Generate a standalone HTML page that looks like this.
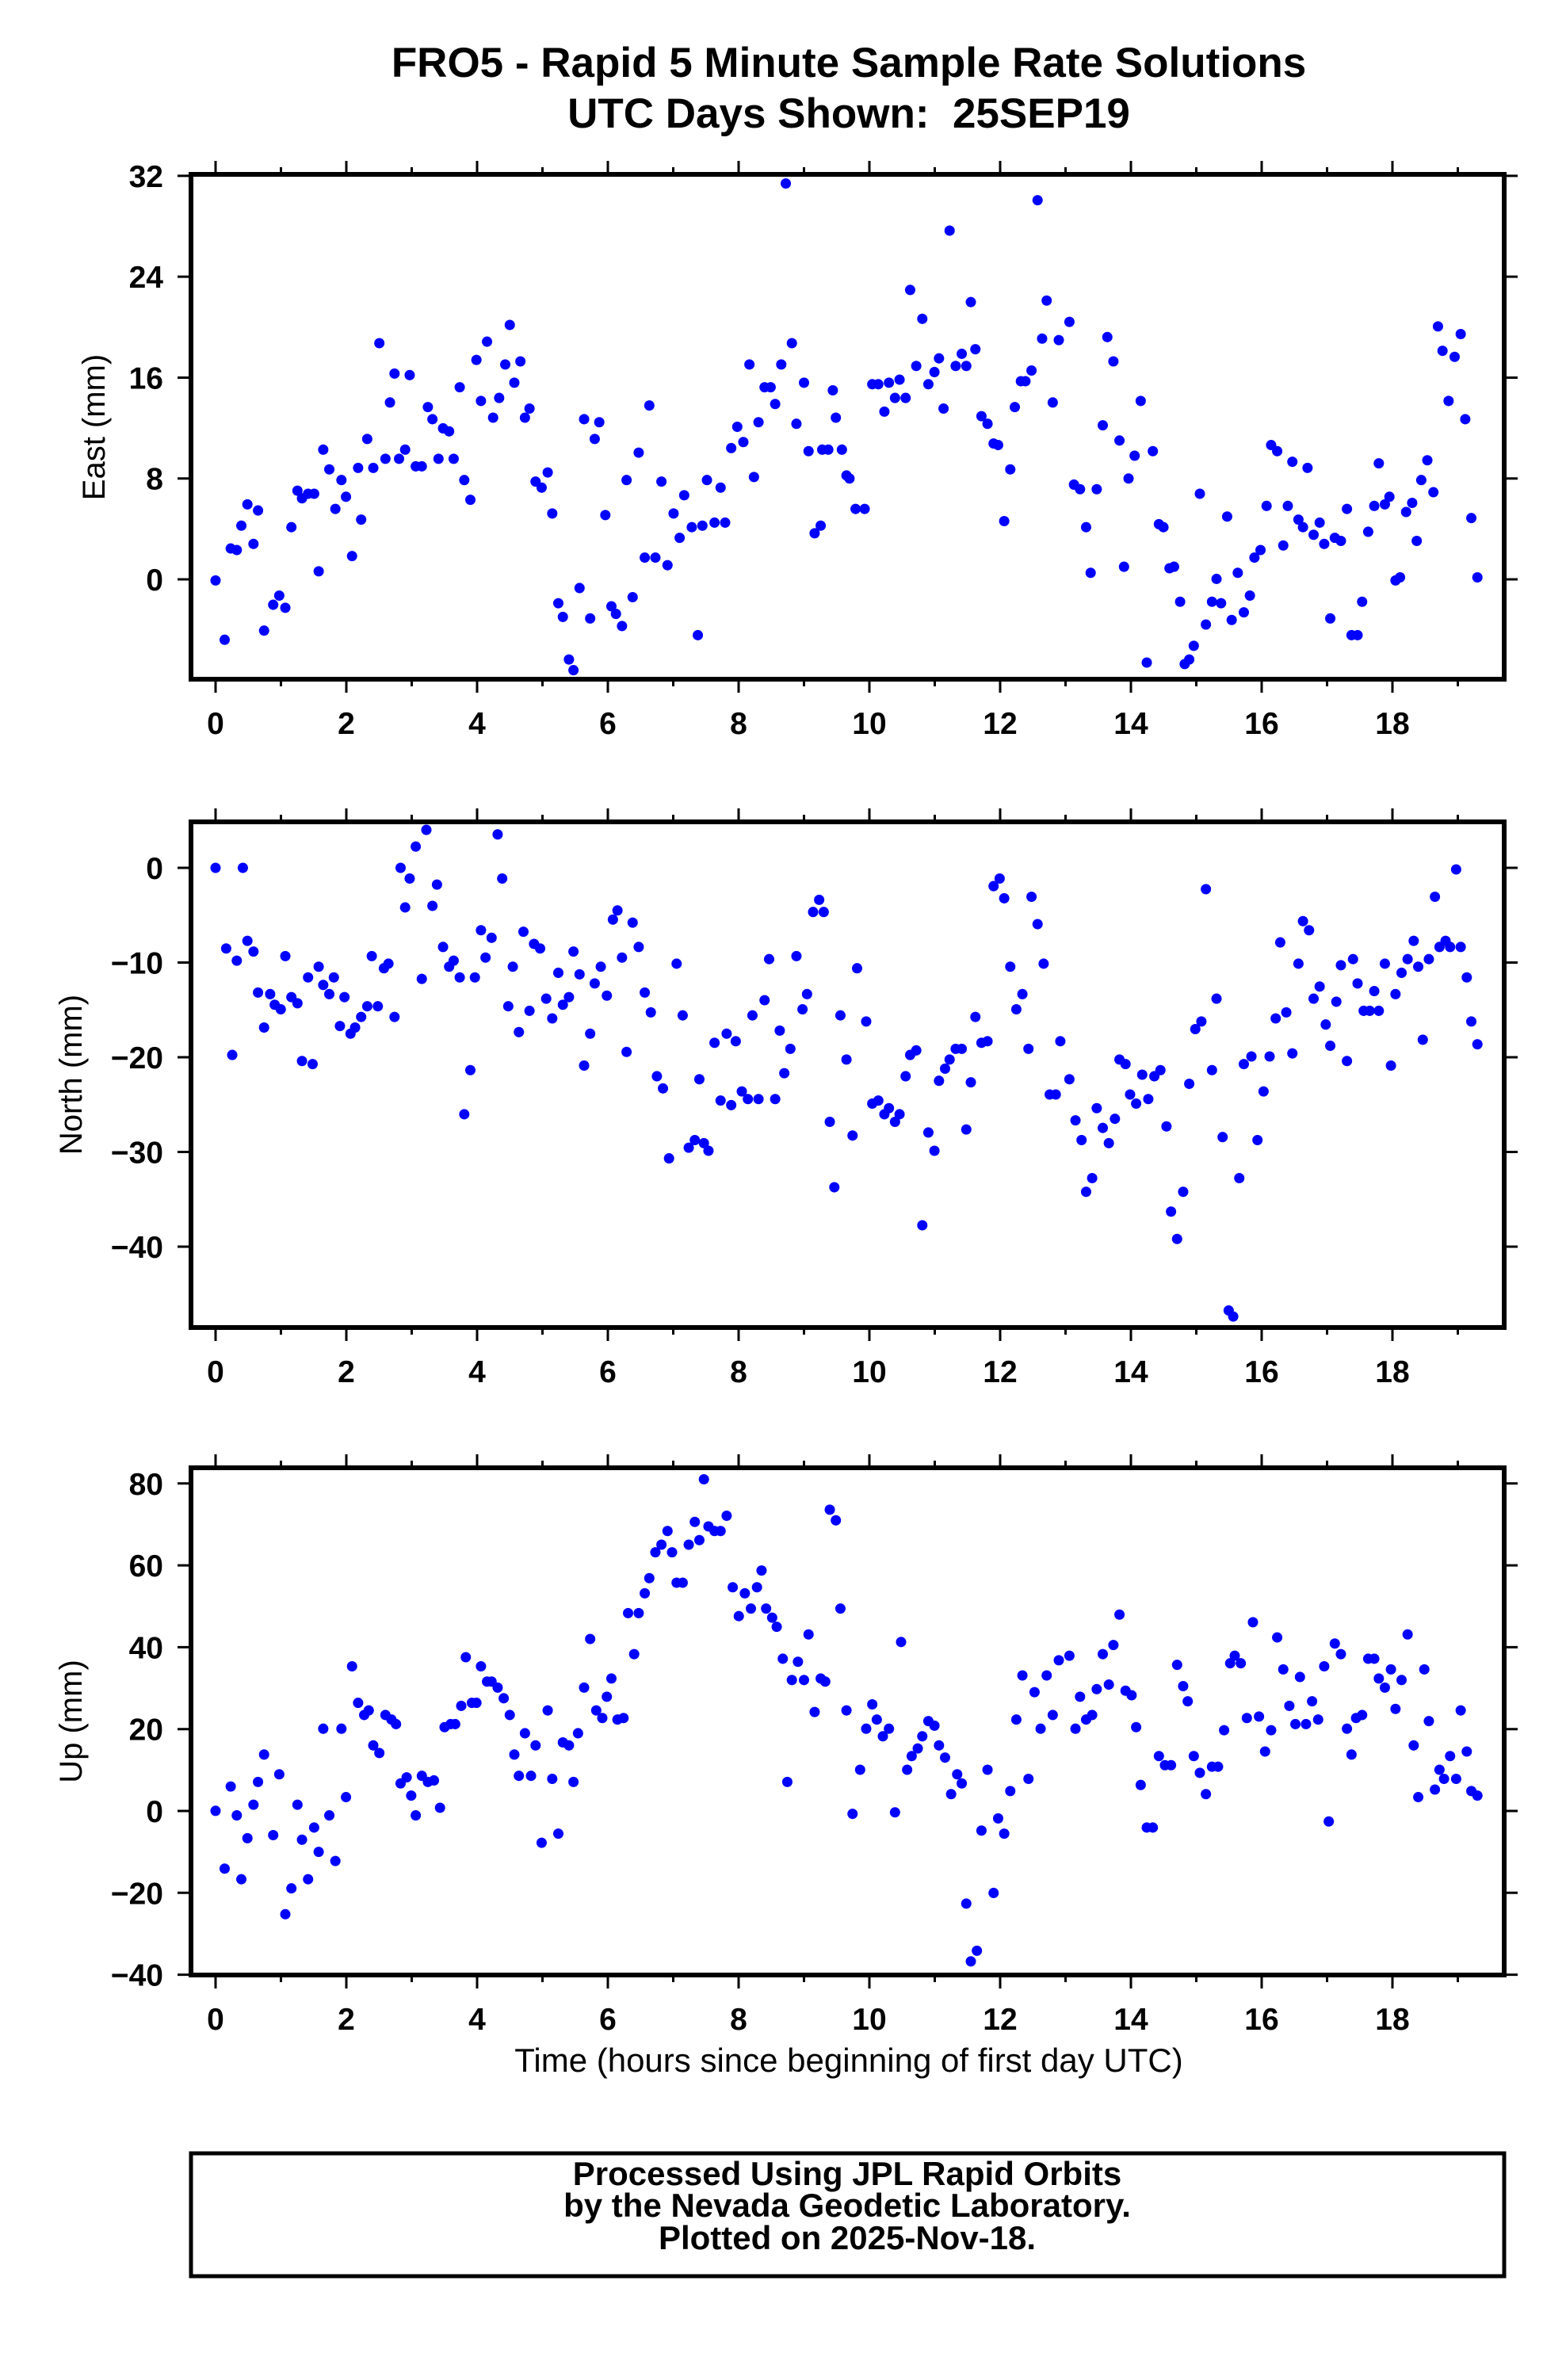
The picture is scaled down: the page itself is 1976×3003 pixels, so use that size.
<!DOCTYPE html>
<html><head><meta charset="utf-8"><style>body{margin:0;background:#fff}svg{display:block}</style></head>
<body>
<svg id="s" xmlns="http://www.w3.org/2000/svg" width="1976" height="3003" viewBox="0 0 1976 3003" font-family="Liberation Sans, sans-serif">
<rect width="1976" height="3003" fill="#fff"/>
<text x="1071" y="97" font-size="53" font-weight="bold" text-anchor="middle">FRO5 - Rapid 5 Minute Sample Rate Solutions</text>
<text x="1071" y="161" font-size="53" font-weight="bold" text-anchor="middle">UTC Days Shown:&#160; 25SEP19</text>
<g id="ax" stroke="#000" fill="none"></g>
<g id="lab" font-size="39" font-weight="bold"></g>
<text transform="translate(132,539) rotate(-90)" font-size="40" text-anchor="middle">East (mm)</text>
<text transform="translate(103,1356) rotate(-90)" font-size="40" text-anchor="middle">North (mm)</text>
<text transform="translate(103,2172) rotate(-90)" font-size="40" text-anchor="middle">Up (mm)</text>
<text x="1071" y="2614" font-size="42" text-anchor="middle">Time (hours since beginning of first day UTC)</text>
<rect x="241" y="2717" width="1657" height="155" fill="none" stroke="#000" stroke-width="5"/>
<text x="1069" y="2757" font-size="42" font-weight="bold" text-anchor="middle">Processed Using JPL Rapid Orbits</text>
<text x="1069" y="2797" font-size="42" font-weight="bold" text-anchor="middle">by the Nevada Geodetic Laboratory.</text>
<text x="1069" y="2838" font-size="42" font-weight="bold" text-anchor="middle">Plotted on 2025-Nov-18.</text>
<g id="d" fill="#0000ff" transform="translate(0.25,-0.7) scale(1.9137,1.919)"></g>
</svg>
<script>
var NS="http://www.w3.org/2000/svg";
function el(p,t,a,txt){var e=document.createElementNS(NS,t);for(var k in a)e.setAttribute(k,a[k]);if(txt!==undefined)e.textContent=txt;p.appendChild(e);return e;}
var ax=document.getElementById('ax'),lab=document.getElementById('lab'),d=document.getElementById('d');
var L=241,R=1898,X0=272,XH=82.5;
var panels=[{t:220,b:857,y0:731,dy:15.91,vals:[0,8,16,24,32]},
{t:1037,b:1675,y0:1095,dy:11.95,vals:[-40,-30,-20,-10,0]},
{t:1852,b:2492,y0:2285,dy:5.165,vals:[-40,-20,0,20,40,60,80]}];
panels.forEach(function(p){
 el(ax,'rect',{x:L,y:p.t,width:R-L,height:p.b-p.t,'stroke-width':6});
 for(var h=0;h<=19;h++){var x=X0+h*XH,len=h%2?9:17;
  el(ax,'line',{x1:x,y1:p.b,x2:x,y2:p.b+len,'stroke-width':3});
  el(ax,'line',{x1:x,y1:p.t,x2:x,y2:p.t-len,'stroke-width':3});
  if(h%2==0)el(lab,'text',{x:x,y:p.b+69,'text-anchor':'middle'},String(h));}
 p.vals.forEach(function(v){var y=p.y0-v*p.dy;
  el(ax,'line',{x1:L,y1:y,x2:L-17,y2:y,'stroke-width':3});
  el(ax,'line',{x1:R,y1:y,x2:R+17,y2:y,'stroke-width':3});
  el(lab,'text',{x:206,y:y+14,'text-anchor':'end'},String(v).replace('-','\u2212'));});
});
var E="142,382 148,421 152,361 156,362 159,346 163,332 167,358 170,336 174,415 180,398 184,392 188,400 192,347 196,323 199,328 203,325 207,325 210,376 213,296 217,309 221,335 225,316 228,327 232,366 236,308 238,342 242,289 246,308 250,226 254,302 257,265 260,246 263,302 267,296 270,247 274,307 278,307 282,268 285,276 289,302 292,282 296,284 299,302 303,255 306,316 310,329 314,237 317,264 321,225 325,275 329,262 333,240 336,214 339,252 343,238 346,275 349,269 353,317 357,321 361,311 364,338 368,397 371,406 375,434 378,441 382,387 385,276 389,407 392,289 395,278 399,339 403,399 406,404 410,412 413,316 417,393 421,298 425,367 428,267 432,367 436,317 440,372 444,338 448,354 451,326 456,347 460,418 463,346 466,316 471,344 475,321 478,344 482,295 486,281 490,291 494,240 497,314 500,278 504,255 508,255 511,266 515,240 518,121 522,226 525,279 530,252 533,297 537,351 541,346 542,296 546,296 549,257 551,275 555,296 558,313 560,315 564,335 570,335 575,253 579,253 583,271 586,252 590,262 593,250 597,262 600,191 604,241 608,210 612,253 616,245 619,236 622,269 626,152 630,241 634,233 637,241 640,199 643,230 647,274 651,279 655,292 658,293 662,343 666,309 669,268 673,251 676,251 680,244 684,132 687,223 690,198 694,265 698,224 705,212 708,319 712,322 716,347 719,377 723,322 727,280 730,222 734,238 738,290 741,373 744,315 748,300 752,264 756,436 760,297 764,345 767,347 771,374 774,373 778,396 781,437 784,434 787,425 791,325 795,411 799,396 802,381 805,397 809,340 812,408 816,377 820,403 824,392 827,367 831,362 835,333 838,293 842,297 846,359 849,333 852,304 856,342 859,347 862,308 866,352 870,344 873,358 877,407 880,354 884,356 888,335 891,418 895,418 898,396 902,350 906,333 909,305 913,332 916,327 920,382 923,380 927,337 931,331 934,356 937,316 941,303 945,324 948,215 951,231 955,264 959,235 963,220 966,276 970,341 974,380";
var N="142,571 149,624 153,694 156,632 160,571 163,619 167,626 170,653 174,676 178,654 181,661 185,664 188,629 192,656 196,660 199,698 203,643 206,700 210,636 213,648 217,654 220,643 224,675 227,656 231,680 234,676 238,669 242,662 245,629 249,662 253,637 256,634 260,669 264,571 267,597 270,578 274,557 278,644 281,546 285,596 288,582 292,623 296,636 299,632 303,643 306,733 310,704 313,643 317,612 320,630 324,617 328,549 331,578 335,662 338,636 342,679 345,613 349,665 352,621 356,624 360,657 364,670 368,640 371,661 375,656 378,626 382,641 385,701 389,680 392,647 396,636 400,655 404,605 407,599 410,630 413,692 417,607 421,623 425,653 429,666 433,708 437,716 441,762 446,634 450,668 454,755 458,750 461,710 464,752 467,757 471,686 475,724 479,680 482,727 485,685 489,718 493,723 496,668 500,723 504,658 507,631 511,723 514,678 517,706 521,690 525,629 529,664 532,654 536,600 540,592 543,600 547,738 550,781 554,668 558,697 562,747 565,637 571,672 575,726 579,724 583,733 586,729 590,738 593,733 597,708 600,694 604,691 608,806 612,745 616,757 619,711 623,703 626,697 630,690 634,690 637,743 640,712 643,669 647,686 651,685 655,583 659,578 662,591 666,636 670,664 674,654 678,690 680,590 684,608 688,634 692,720 696,720 699,685 705,710 709,737 713,750 716,784 720,775 723,729 727,742 731,752 735,736 738,697 742,700 745,720 749,726 753,707 757,723 761,708 765,704 769,741 772,797 776,815 780,784 784,713 788,677 792,672 795,585 799,704 802,657 806,748 810,862 813,866 817,775 820,700 825,695 829,750 833,718 837,695 841,670 844,620 848,666 852,693 856,634 859,606 863,612 866,657 870,649 874,674 877,688 881,659 884,635 888,698 892,631 895,647 899,665 903,665 906,652 909,665 913,634 917,701 920,654 924,640 928,631 932,619 935,636 938,684 942,631 946,590 949,623 953,619 956,623 960,572 963,623 967,643 970,672 974,687";
var U="142,1191 148,1229 152,1175 156,1194 159,1236 163,1209 167,1187 170,1172 174,1154 180,1207 184,1167 188,1259 192,1242 196,1187 199,1210 203,1236 207,1202 210,1218 213,1137 217,1194 221,1224 225,1137 228,1182 232,1096 236,1120 240,1128 243,1125 246,1148 250,1153 254,1128 258,1131 261,1134 264,1173 268,1169 271,1181 274,1194 278,1168 282,1172 286,1171 290,1189 293,1136 297,1134 300,1134 304,1122 307,1090 311,1120 314,1120 317,1096 321,1106 324,1106 328,1110 332,1117 336,1128 339,1154 342,1168 346,1140 350,1168 353,1148 357,1212 361,1125 364,1170 368,1206 371,1146 375,1148 378,1172 381,1140 385,1110 389,1078 393,1125 397,1130 400,1116 403,1104 407,1131 411,1130 414,1061 418,1088 421,1061 425,1048 428,1038 432,1021 436,1016 440,1007 443,1021 446,1041 450,1041 454,1016 458,1001 461,1013 464,973 467,1004 471,1007 475,1007 479,997 483,1044 487,1063 491,1048 495,1058 499,1044 502,1033 505,1058 509,1064 512,1070 516,1091 519,1172 522,1105 526,1093 530,1105 533,1075 537,1126 541,1104 544,1106 547,993 551,1000 554,1058 558,1125 562,1193 567,1164 571,1137 575,1121 578,1131 582,1142 586,1137 590,1192 594,1080 598,1164 601,1155 605,1150 608,1142 612,1132 616,1135 619,1148 623,1156 627,1180 631,1167 634,1173 637,1252 640,1290 644,1283 647,1204 651,1164 655,1245 658,1196 662,1206 666,1178 670,1131 674,1102 678,1170 682,1113 686,1137 690,1102 694,1128 698,1092 705,1089 709,1137 712,1116 716,1131 720,1128 723,1111 727,1088 731,1108 734,1082 738,1062 742,1112 746,1115 749,1136 752,1174 756,1202 760,1202 764,1155 768,1161 772,1161 776,1095 780,1109 783,1119 787,1155 791,1166 795,1180 799,1162 803,1162 807,1138 811,1094 814,1089 818,1094 822,1130 826,1067 830,1129 834,1152 838,1138 842,1077 846,1098 850,1122 854,1134 857,1103 861,1134 865,1119 869,1131 873,1096 876,1198 880,1081 884,1088 888,1137 891,1154 894,1130 898,1128 902,1091 906,1091 909,1104 913,1110 917,1098 920,1124 924,1105 928,1075 932,1148 935,1182 939,1098 942,1132 946,1177 949,1164 952,1170 956,1155 960,1170 963,1125 967,1152 970,1178 974,1181";
[E,N,U].forEach(function(s){s.split(' ').forEach(function(p){var a=p.split(',');el(d,'circle',{cx:a[0],cy:a[1],r:3.4});});});
</script>
</body></html>
